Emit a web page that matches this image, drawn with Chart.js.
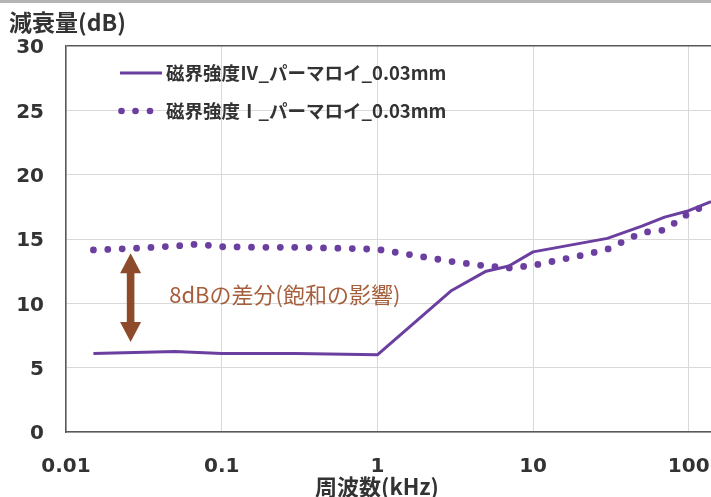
<!DOCTYPE html>
<html>
<head>
<meta charset="utf-8">
<script src="https://cdn.jsdelivr.net/npm/chart.js@4"></script>
<style>
  html, body { margin: 0; padding: 0; background: #fff; }
</style>
</head>
<body>
<canvas id="chart" width="711" height="497"></canvas>
<script>
// 周波数 (kHz) と減衰量 (dB)
const freqIV = [0.015, 0.05, 0.1, 0.3, 1, 3, 5, 7, 10, 30, 50, 70, 100, 139];
const attenIV = [6.1, 6.25, 6.1, 6.1, 6.0, 11.0, 12.5, 12.9, 14.0, 15.05, 16.0, 16.7, 17.2, 17.9];

const freqI = [0.015, 0.02, 0.03, 0.05, 0.07, 0.1, 0.2, 0.3, 0.5, 0.7, 1, 2, 3, 5, 7, 10, 20, 30, 50, 70, 100, 139];
const attenI = [14.15, 14.2, 14.3, 14.45, 14.6, 14.4, 14.35, 14.35, 14.3, 14.25, 14.2, 13.6, 13.25, 12.9, 12.75, 12.95, 13.7, 14.2, 15.5, 15.7, 17.0, 17.8];

const seriesNames = ['磁界強度Ⅳ_パーマロイ_0.03mm', '磁界強度Ⅰ_パーマロイ_0.03mm'];
const xTicks = [0.01, 0.1, 1, 10, 100];
const xTickLabels = ['0.01', '0.1', '1', '10', '100'];

// 注記 (8dBの差分)
const noteFreq = 0.026;
const noteTop = 13.9;
const noteBottom = 7.0;
const noteText = '8dBの差分(飽和の影響)';
const noteTextFreq = 0.046;
const noteTextLevel = 10.65;

const purple = '#6b3fa0';
const brown = '#8e4b2c';
const textColor = '#333333';
const numFont = { family: 'DejaVu Sans', size: 20, weight: 'bold' };

const toPoints = (xs, ys) => xs.map((x, i) => ({ x: x, y: ys[i] }));

const decorations = {
  id: 'decorations',
  beforeDraw(chart) {
    const ctx = chart.ctx;
    ctx.save();
    ctx.fillStyle = '#fff';
    ctx.fillRect(0, 0, chart.width, chart.height);
    ctx.fillStyle = '#b4b4b4';
    ctx.fillRect(0, 0, chart.width, 3);
    ctx.restore();
  },
  afterDraw(chart) {
    const ctx = chart.ctx;
    const xs = chart.scales.x, ys = chart.scales.y;
    ctx.save();

    // 軸タイトル
    ctx.fillStyle = textColor;
    ctx.font = 'bold 23px "Noto Sans CJK JP"';
    ctx.textBaseline = 'middle';
    ctx.textAlign = 'left';
    ctx.fillText('減衰量(dB)', 9, 22);
    ctx.font = 'bold 22px "Noto Sans CJK JP"';
    ctx.textAlign = 'center';
    ctx.fillText('周波数(kHz)', 377, 487);

    // 凡例
    ctx.font = 'bold 18.5px "Noto Sans CJK JP"';
    ctx.textAlign = 'left';
    ctx.fillText(seriesNames[0], 166, 73);
    ctx.fillText(seriesNames[1], 166, 111);
    ctx.strokeStyle = purple;
    ctx.lineWidth = 3;
    ctx.beginPath();
    ctx.moveTo(120, 73);
    ctx.lineTo(162, 73);
    ctx.stroke();
    ctx.fillStyle = purple;
    [121.5, 135.5, 150].forEach(px => {
      ctx.beginPath();
      ctx.arc(px, 111, 3.3, 0, Math.PI * 2);
      ctx.fill();
    });

    // 両矢印
    const ax = xs.getPixelForValue(noteFreq);
    const yTop = ys.getPixelForValue(noteTop);
    const yBot = ys.getPixelForValue(noteBottom);
    const hw = 10.5, hl = 20, sw = 3.8;
    ctx.fillStyle = brown;
    ctx.beginPath();
    ctx.moveTo(ax, yTop);
    ctx.lineTo(ax + hw, yTop + hl);
    ctx.lineTo(ax + sw, yTop + hl);
    ctx.lineTo(ax + sw, yBot - hl);
    ctx.lineTo(ax + hw, yBot - hl);
    ctx.lineTo(ax, yBot);
    ctx.lineTo(ax - hw, yBot - hl);
    ctx.lineTo(ax - sw, yBot - hl);
    ctx.lineTo(ax - sw, yTop + hl);
    ctx.lineTo(ax - hw, yTop + hl);
    ctx.closePath();
    ctx.fill();

    ctx.fillStyle = '#a65f3c';
    ctx.font = '22px "Noto Sans CJK JP"';
    ctx.textAlign = 'left';
    ctx.textBaseline = 'middle';
    ctx.fillText(noteText, xs.getPixelForValue(noteTextFreq), ys.getPixelForValue(noteTextLevel));

    ctx.restore();
  }
};

new Chart(document.getElementById('chart'), {
  type: 'line',
  data: {
    datasets: [
      {
        label: seriesNames[0],
        data: toPoints(freqIV, attenIV),
        borderColor: purple,
        borderWidth: 3,
        pointRadius: 0,
        tension: 0,
        borderJoinStyle: 'round'
      },
      {
        label: seriesNames[1],
        data: toPoints(freqI, attenI),
        borderColor: purple,
        borderWidth: 6.8,
        borderDash: [0, 14.4],
        borderCapStyle: 'round',
        pointRadius: 0,
        tension: 0
      }
    ]
  },
  options: {
    responsive: false,
    animation: false,
    layout: { padding: { top: 46, left: 0, right: 0, bottom: 0 } },
    plugins: { legend: { display: false }, tooltip: { enabled: false } },
    scales: {
      x: {
        type: 'logarithmic',
        min: 0.01,
        max: 139,
        afterBuildTicks: s => { s.ticks = xTicks.map(v => ({ value: v })); },
        afterFit: s => { s.height = 65; s.paddingLeft = 0; s.paddingRight = 0; },
        ticks: {
          autoSkip: false,
          maxRotation: 0,
          padding: 23,
          color: textColor,
          font: numFont,
          callback: (v, i) => xTickLabels[i]
        },
        grid: { color: '#d9d9d9', lineWidth: 1, drawTicks: false },
        border: { color: '#595959', width: 1.5 }
      },
      y: {
        min: 0,
        max: 30,
        afterFit: s => { s.width = 66; s.paddingTop = 0; s.paddingBottom = 0; },
        ticks: {
          stepSize: 5,
          padding: 22,
          labelOffset: 2,
          color: textColor,
          font: numFont
        },
        grid: {
          color: c => (c.tick && c.tick.value === 30 ? '#595959' : '#d9d9d9'),
          lineWidth: c => (c.tick && c.tick.value === 30 ? 1.5 : 1),
          drawTicks: false
        },
        border: { color: '#595959', width: 1.5 }
      }
    }
  },
  plugins: [decorations]
});
</script>
</body>
</html>
